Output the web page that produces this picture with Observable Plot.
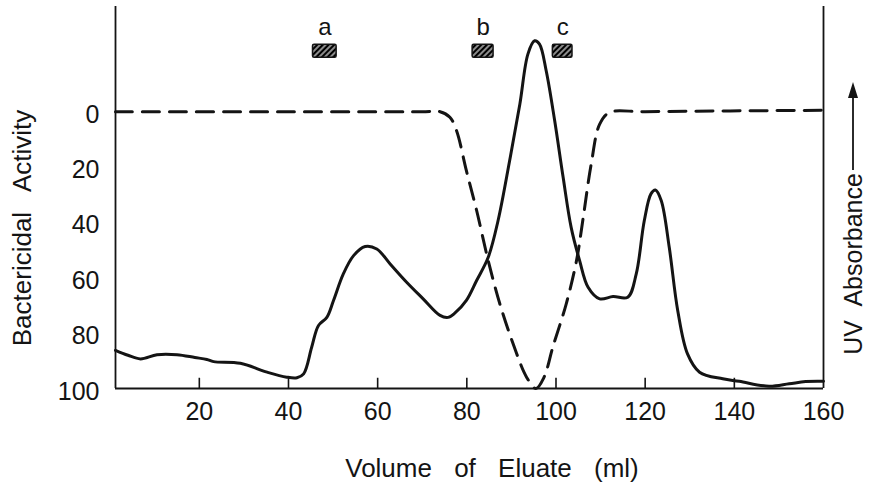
<!DOCTYPE html>
<html><head><meta charset="utf-8">
<script src="https://cdn.jsdelivr.net/npm/d3@7"></script>
<script src="https://cdn.jsdelivr.net/npm/@observablehq/plot@0.6"></script>
<style>
body{margin:0;background:#fff;}
#chart{width:871px;height:484px;}
</style></head><body><div id="chart"></div>
<script>
// Solid trace (volume ml, value on the inverted activity scale)
const solidX = [1.2, 4, 6.8, 10.5, 15, 19, 21.7, 23.2, 29.2, 35.2, 39.6, 41.9, 43.4, 45.2, 46.7, 48.6, 50.1, 52.3, 54.6, 57.2, 59.8, 62.8, 66.5, 70.2, 74, 75.8, 77.3, 79.9, 82.2, 84.8, 87, 89.6, 91.9, 93.7, 95.2, 96.3, 97.8, 99.7, 101.6, 103.4, 105.3, 107.2, 109.8, 112.8, 116.1, 118, 119.8, 121.3, 122.3, 123.6, 125.4, 127.3, 129.5, 132.2, 137.4, 141.1, 147.8, 152.3, 156, 160];
const solidY = [86.2, 88.0, 89.3, 87.8, 87.8, 88.8, 89.5, 90.3, 90.9, 94.1, 95.9, 96.1, 94.7, 85.1, 77.3, 74.3, 68.2, 58.6, 52.0, 48.7, 49.6, 55.0, 61.6, 67.6, 73.6, 74.3, 72.8, 68.2, 61.0, 52.6, 39.4, 17.7, -2.8, -20.8, -25.6, -24.4, -14.8, 3.2, 23.7, 41.8, 53.8, 63.4, 67.6, 66.8, 67.0, 58.6, 39.4, 29.7, 28.3, 32.1, 49.0, 71.8, 87.5, 94.1, 96.5, 97.4, 99.2, 98.3, 97.5, 97.4];
// Dashed UV absorbance trace
const uvX = [1.2, 40, 70, 74, 76.2, 77.7, 79.9, 82.2, 84.8, 87.4, 90.4, 93.4, 95.5, 97.3, 99.3, 102.3, 104.6, 106, 107.9, 109.8, 112, 120, 160];
const uvY = [0, 0, 0, 0, 2, 6.9, 21.3, 35.7, 53.8, 69.4, 83.9, 95.9, 100, 96, 85, 69.4, 53.8, 39.4, 18.9, 4.5, 0.3, 0, -0.5];
// Fraction markers
const markerLabels = ["a", "b", "c"];
const markerStart = [45.5, 81.3, 99.3];
const markerEnd = [50.8, 86.0, 103.7];
// Ticks and titles
const xTicks = [20, 40, 60, 80, 100, 120, 140, 160];
const yTicks = [0, 20, 40, 60, 80, 100];
const xTitle = "Volume of Eluate (ml)";
const yTitle = "Bactericidal Activity";
const rightTitle = "UV Absorbance";

const solid = solidX.map((x, i) => ({x, y: solidY[i]}));
const uv = uvX.map((x, i) => ({x, y: uvY[i]}));
const markers = markerLabels.map((label, i) => ({label, x1: markerStart[i], x2: markerEnd[i], xm: (markerStart[i] + markerEnd[i]) / 2}));

const ink = "#141414";
const font = "'Liberation Sans', Arial, sans-serif";

const plot = Plot.plot({
  width: 871, height: 484,
  marginLeft: 115, marginRight: 48, marginTop: 6, marginBottom: 96,
  style: {fontFamily: font, fontSize: "25px", color: ink, background: "white", overflow: "visible"},
  x: {domain: [1.2, 160], label: null},
  y: {domain: [100, -38], label: null},
  marks: [
    Plot.axisY({ticks: yTicks, tickSize: 0, tickPadding: 16, dy: 3, label: null, fill: ink}),
    Plot.axisX({ticks: xTicks, tickSize: 0, tickPadding: 14, label: null, fill: ink}),
    Plot.ruleX(xTicks.filter(d => d < 160), {y1: 100, y2: 96.3, stroke: ink, strokeWidth: 1.6}),
    Plot.ruleY([100], {x1: 1.2, x2: 160, stroke: ink, strokeWidth: 2}),
    Plot.ruleX([1.2, 160], {y1: 100, y2: -38, stroke: ink, strokeWidth: 1.8}),
    Plot.line(uv, {x: "x", y: "y", stroke: ink, strokeWidth: 3, strokeDasharray: "17,10", curve: "catmull-rom"}),
    Plot.line(solid, {x: "x", y: "y", stroke: ink, strokeWidth: 3, curve: "catmull-rom"}),
    Plot.rect(markers, {x1: "x1", x2: "x2", y1: -24.2, y2: -19.5, fill: "url(#hatch)", stroke: ink, strokeWidth: 1.5, rx: 1.5}),
    Plot.text(markers, {x: "xm", y: -30.5, text: "label", fontSize: 24, fill: ink})
  ]
});

const svg = d3.select(plot);
const defs = svg.insert("defs", ":first-child");
const pat = defs.append("pattern").attr("id", "hatch").attr("patternUnits", "userSpaceOnUse")
  .attr("width", 4).attr("height", 4).attr("patternTransform", "rotate(45)");
pat.append("rect").attr("width", 4).attr("height", 4).attr("fill", "#000");
pat.append("line").attr("x1", 2).attr("y1", 0).attr("x2", 2).attr("y2", 4).attr("stroke", "white").attr("stroke-width", 1.1);

svg.append("text").text(xTitle)
  .attr("x", 492).attr("y", 477).attr("text-anchor", "middle")
  .attr("font-family", font).attr("font-size", 26).attr("word-spacing", 15).attr("fill", ink);
svg.append("text").text(yTitle)
  .attr("transform", "translate(31,228) rotate(-90)").attr("text-anchor", "middle")
  .attr("font-family", font).attr("font-size", 26).attr("word-spacing", 14).attr("fill", ink);
svg.append("text").text(rightTitle)
  .attr("transform", "translate(862,264) rotate(-90)").attr("text-anchor", "middle")
  .attr("font-family", font).attr("font-size", 25).attr("word-spacing", 8).attr("fill", ink);
svg.append("line").attr("x1", 853).attr("x2", 853).attr("y1", 170).attr("y2", 95)
  .attr("stroke", ink).attr("stroke-width", 1.8);
svg.append("path").attr("d", "M853,82 L848,98 L858,98 Z").attr("fill", ink);

document.getElementById("chart").appendChild(plot);
</script>
</body></html>
